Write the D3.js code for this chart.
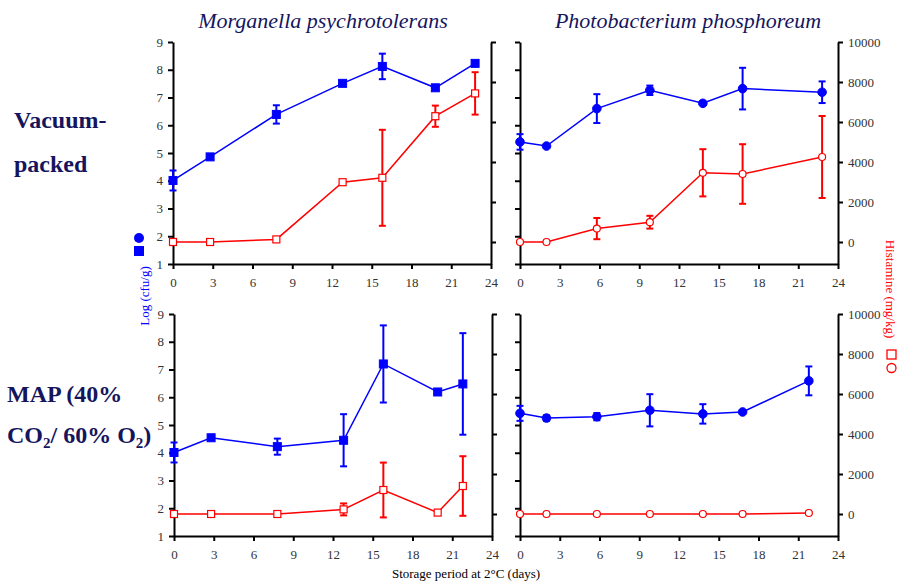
<!DOCTYPE html>
<html>
<head>
<meta charset="utf-8">
<script src="https://cdn.jsdelivr.net/npm/d3@7"></script>
<style>
  body { margin: 0; background: #fff; }
  svg text { font-family: "Liberation Serif", "Times New Roman", serif; }
  .axis path, .axis line { stroke: #000; stroke-width: 2px; }
  .axis text { fill: #333; font-size: 13px; }
</style>
</head>
<body>
<div id="chartArea"></div>
<script>
// tick values
var dayTicks = [0, 3, 6, 9, 12, 15, 18, 21, 24];
var logTicks = [1, 2, 3, 4, 5, 6, 7, 8, 9];
var hisTicks = [0, 2000, 4000, 6000, 8000, 10000];

// Morganella psychrotolerans, vacuum-packed
var morgVacDays = [0, 2.8, 7.8, 12.8, 15.8, 19.8, 22.8];
var morgVacLog = [4.01, 4.86, 6.39, 7.51, 8.12, 7.35, 8.23];
var morgVacLogErr = [0.36, 0, 0.33, 0, 0.46, 0, 0];
var morgVacHis = [0, 0, 130, 2990, 3210, 6290, 7430];
var morgVacHisErr = [0, 0, 0, 80, 2400, 530, 1060];

// Photobacterium phosphoreum, vacuum-packed
var photVacDays = [0, 2, 5.8, 9.8, 13.8, 16.8, 22.8];
var photVacLog = [5.40, 5.25, 6.60, 7.26, 6.79, 7.32, 7.19];
var photVacLogErr = [0.28, 0, 0.52, 0.17, 0, 0.75, 0.39];
var photVacHis = [0, 0, 670, 990, 3460, 3400, 4250];
var photVacHisErr = [0, 0, 530, 320, 1180, 1490, 2050];

// Morganella psychrotolerans, MAP
var morgMapDays = [0, 2.8, 7.8, 12.8, 15.8, 19.9, 21.8];
var morgMapLog = [4.01, 4.54, 4.22, 4.45, 7.20, 6.19, 6.48];
var morgMapLogErr = [0.36, 0, 0.29, 0.94, 1.39, 0, 1.83];
var morgMapHis = [0, 0, 0, 230, 1200, 70, 1400];
var morgMapHisErr = [0, 0, 0, 300, 1370, 0, 1490];

// Photobacterium phosphoreum, MAP
var photMapDays = [0, 2, 5.8, 9.8, 13.8, 16.8, 21.8];
var photMapLog = [5.42, 5.25, 5.30, 5.53, 5.40, 5.47, 6.59];
var photMapLogErr = [0.27, 0.1, 0.13, 0.58, 0.35, 0, 0.52];
var photMapHis = [0, 0, 0, 0, 0, 0, 50];
var photMapHisErr = [0, 0, 0, 0, 0, 0, 0];

var titles = ['Morganella psychrotolerans', 'Photobacterium phosphoreum'];

var width = 898, height = 583;
var blue = '#0000ff', red = '#ff0000', navy = '#15155e';

var svg = d3.select('#chartArea').append('svg')
    .attr('width', width)
    .attr('height', height);

function panel(left, top, days, logv, logErr, his, hisErr, marker, leftLabels) {
    var w = 318, h = 222;
    var x = d3.scaleLinear().domain([0, 24]).range([left, left + w]);
    var yLog = d3.scaleLinear().domain([1, 9]).range([top + h, top]);
    var yHis = d3.scaleLinear().domain([-1100, 10000]).range([top + h, top]);

    svg.append('g').attr('class', 'axis')
        .attr('transform', 'translate(0,' + (top + h) + ')')
        .call(d3.axisBottom(x).tickValues(dayTicks).tickSize(5).tickSizeOuter(0).tickPadding(9));
    svg.append('g').attr('class', 'axis')
        .attr('transform', 'translate(' + left + ',0)')
        .call(d3.axisLeft(yLog).tickValues(logTicks).tickSize(5).tickSizeOuter(0).tickPadding(5)
            .tickFormat(leftLabels ? d3.format('d') : ''));
    svg.append('g').attr('class', 'axis')
        .attr('transform', 'translate(' + (left + w) + ',0)')
        .call(d3.axisRight(yHis).tickValues(hisTicks).tickSize(5).tickSizeOuter(0).tickPadding(5)
            .tickFormat(leftLabels ? '' : d3.format('d')));

    var g = svg.append('g');
    function series(vals, errs, y, color, open) {
        var pts = days.map(function(d, i) { return {d: d, v: vals[i], e: errs[i]}; });
        g.append('path').datum(pts)
            .attr('fill', 'none').attr('stroke', color).attr('stroke-width', 1.5)
            .attr('d', d3.line().x(function(p) { return x(p.d); }).y(function(p) { return y(p.v); }));
        var eb = g.selectAll(null).data(pts.filter(function(p) { return p.e > 0; })).enter().append('g')
            .attr('stroke', color).attr('stroke-width', 2);
        eb.append('line').attr('x1', function(p) { return x(p.d); }).attr('x2', function(p) { return x(p.d); })
            .attr('y1', function(p) { return y(p.v - p.e); }).attr('y2', function(p) { return y(p.v + p.e); });
        [-1, 1].forEach(function(s) {
            eb.append('line')
                .attr('x1', function(p) { return x(p.d) - 3.5; }).attr('x2', function(p) { return x(p.d) + 3.5; })
                .attr('y1', function(p) { return y(p.v + s * p.e); }).attr('y2', function(p) { return y(p.v + s * p.e); });
        });
        var m = g.selectAll(null).data(pts).enter();
        if (marker === 'square') {
            var sz = open ? 7 : 8;
            m.append('rect')
                .attr('x', function(p) { return x(p.d) - sz / 2; })
                .attr('y', function(p) { return y(p.v) - sz / 2; })
                .attr('width', sz).attr('height', sz)
                .attr('fill', open ? '#fff' : color).attr('stroke', color).attr('stroke-width', open ? 1.2 : 1);
        } else {
            m.append('circle')
                .attr('cx', function(p) { return x(p.d); })
                .attr('cy', function(p) { return y(p.v); })
                .attr('r', open ? 3.5 : 4.3)
                .attr('fill', open ? '#fff' : color).attr('stroke', color).attr('stroke-width', open ? 1.2 : 1);
        }
    }
    series(his, hisErr, yHis, red, true);
    series(logv, logErr, yLog, blue, false);
}

panel(173, 42, morgVacDays, morgVacLog, morgVacLogErr, morgVacHis, morgVacHisErr, 'square', true);
panel(520, 42, photVacDays, photVacLog, photVacLogErr, photVacHis, photVacHisErr, 'circle', false);
panel(174, 314, morgMapDays, morgMapLog, morgMapLogErr, morgMapHis, morgMapHisErr, 'square', true);
panel(520, 314, photMapDays, photMapLog, photMapLogErr, photMapHis, photMapHisErr, 'circle', false);

// column titles
svg.selectAll('.title').data(titles).enter().append('text')
    .attr('x', function(d, i) { return i === 0 ? 323 : 688; })
    .attr('y', 28)
    .attr('text-anchor', 'middle')
    .attr('font-size', '22px').attr('font-style', 'italic').attr('fill', navy)
    .text(function(d) { return d; });

// row labels
function rowLabel(x, y, txt) {
    return svg.append('text').attr('x', x).attr('y', y)
        .attr('font-size', '24px').attr('font-weight', 'bold').attr('fill', navy).text(txt);
}
rowLabel(14, 128, 'Vacuum-');
rowLabel(14, 172, 'packed');
rowLabel(7, 402, 'MAP (40%');
var co = rowLabel(7, 443, '');
co.append('tspan').text('CO');
co.append('tspan').attr('font-size', '15px').attr('dy', 5).text('2');
co.append('tspan').attr('dy', -5).text('/ 60% O');
co.append('tspan').attr('font-size', '15px').attr('dy', 5).text('2');
co.append('tspan').attr('dy', -5).text(')');

// y axis titles with symbol keys
svg.append('text').attr('transform', 'translate(149,296) rotate(-90)')
    .attr('text-anchor', 'middle').attr('font-size', '13px').attr('fill', blue).text('Log (cfu/g)');
svg.append('circle').attr('cx', 139).attr('cy', 238).attr('r', 5).attr('fill', blue);
svg.append('rect').attr('x', 134).attr('y', 246).attr('width', 10).attr('height', 10).attr('fill', blue);

svg.append('text').attr('transform', 'translate(886,289) rotate(90)')
    .attr('text-anchor', 'middle').attr('font-size', '13px').attr('fill', red).text('Histamine (mg/kg)');
svg.append('rect').attr('x', 887).attr('y', 350).attr('width', 9).attr('height', 9)
    .attr('fill', '#fff').attr('stroke', red).attr('stroke-width', 1.3);
svg.append('circle').attr('cx', 891.5).attr('cy', 368).attr('r', 4.5)
    .attr('fill', '#fff').attr('stroke', red).attr('stroke-width', 1.3);

// x axis title
svg.append('text').attr('x', 466).attr('y', 578).attr('text-anchor', 'middle')
    .attr('font-size', '13px').attr('fill', '#000').text('Storage period at 2°C (days)');
</script>
</body>
</html>
